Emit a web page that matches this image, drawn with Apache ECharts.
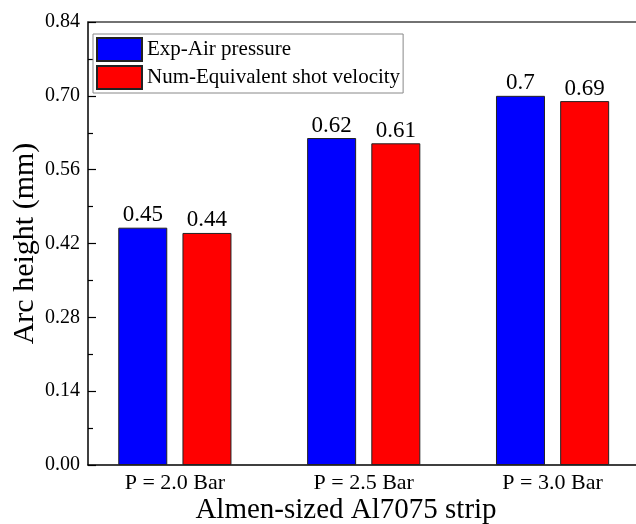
<!DOCTYPE html>
<html><head><meta charset="utf-8">
<script src="https://cdn.jsdelivr.net/npm/echarts@6/dist/echarts.min.js"></script>
<style>html,body{margin:0;padding:0;background:#fff}#c{width:636px;height:524px}</style>
</head><body><div id="c"></div>
<script>
var categories = ['P = 2.0 Bar', 'P = 2.5 Bar', 'P = 3.0 Bar'];
var seriesNames = ['Exp-Air pressure', 'Num-Equivalent shot velocity'];
var expValues = [0.45, 0.62, 0.7];
var numValues = [0.44, 0.61, 0.69];
var yTicks = [0, 0.14, 0.28, 0.42, 0.56, 0.70, 0.84];

var font = '"Liberation Serif", "Times New Roman", serif';
var pos = categories.map(function (c, i) { return i + 1; });
function pairs(vals) { return vals.map(function (v, i) { return [pos[i], v]; }); }

var chart = echarts.init(document.getElementById('c'), null, {renderer: 'canvas'});
var xCommon = {
  type: 'value', min: 0.54, max: 3.5,
  splitLine: {show: false},
  axisLine: {show: true, lineStyle: {color: '#000', width: 1.5}},
  axisTick: {show: false}
};
var labelCfg = {show: true, position: 'top', distance: 1, fontFamily: font, fontSize: 23, color: '#000',
  formatter: function (p) { return String(p.value[1]); }};
chart.setOption({
  animation: false,
  backgroundColor: '#fff',
  textStyle: {fontFamily: font},
  grid: {left: 88, top: 22, width: 559, bottom: 59, containLabel: false, outerBoundsMode: 'none'},
  legend: {
    orient: 'vertical', left: 93, top: 34,
    padding: [3, 3, 3, 3], itemGap: 3, itemWidth: 45, itemHeight: 23,
    icon: 'rect',
    borderColor: '#888', borderWidth: 1,
    textStyle: {fontFamily: font, fontSize: 21, color: '#000'},
    data: seriesNames
  },
  xAxis: [
    Object.assign({}, xCommon, {
      position: 'bottom',
      name: 'Almen-sized Al7075 strip', nameLocation: 'middle', nameGap: 31,
      nameMoveOverlap: false,
      nameTextStyle: {fontFamily: font, fontSize: 29, color: '#000', padding: [0, 43, 0, 0]},
      axisLabel: {
        customValues: pos, margin: 7,
        fontFamily: font, fontSize: 22, color: '#000',
        formatter: function (v) { return categories[Math.round(v) - 1] || ''; }
      }
    }),
    Object.assign({}, xCommon, {
      position: 'top', axisLabel: {show: false},
      axisLine: {show: true, lineStyle: {color: '#444', width: 1.5}}
    })
  ],
  yAxis: {
    type: 'value', min: yTicks[0], max: yTicks[yTicks.length - 1], interval: 0.14,
    name: 'Arc height (mm)', nameLocation: 'middle', nameGap: 48,
    nameMoveOverlap: false,
    nameTextStyle: {fontFamily: font, fontSize: 30, color: '#000'},
    splitLine: {show: false},
    axisLine: {show: true, lineStyle: {color: '#000', width: 1.5}},
    axisTick: {show: true, inside: true, length: 8, lineStyle: {color: '#000', width: 1.2}},
    minorTick: {show: true, splitNumber: 2, length: 5, lineStyle: {color: '#000', width: 1.2}},
    axisLabel: {
      margin: 8, fontFamily: font, fontSize: 20, color: '#000',
      formatter: function (v) { return v.toFixed(2); }
    }
  },
  series: [
    {
      name: seriesNames[0], type: 'bar', xAxisIndex: 0,
      data: pairs(expValues), barWidth: 49, barGap: '31%',
      itemStyle: {color: '#0000ff', borderColor: '#222', borderWidth: 1},
      label: labelCfg
    },
    {
      name: seriesNames[1], type: 'bar', xAxisIndex: 0,
      data: pairs(numValues), barWidth: 49, barGap: '31%',
      itemStyle: {color: '#ff0000', borderColor: '#222', borderWidth: 1},
      label: labelCfg
    }
  ]
});
</script></body></html>
